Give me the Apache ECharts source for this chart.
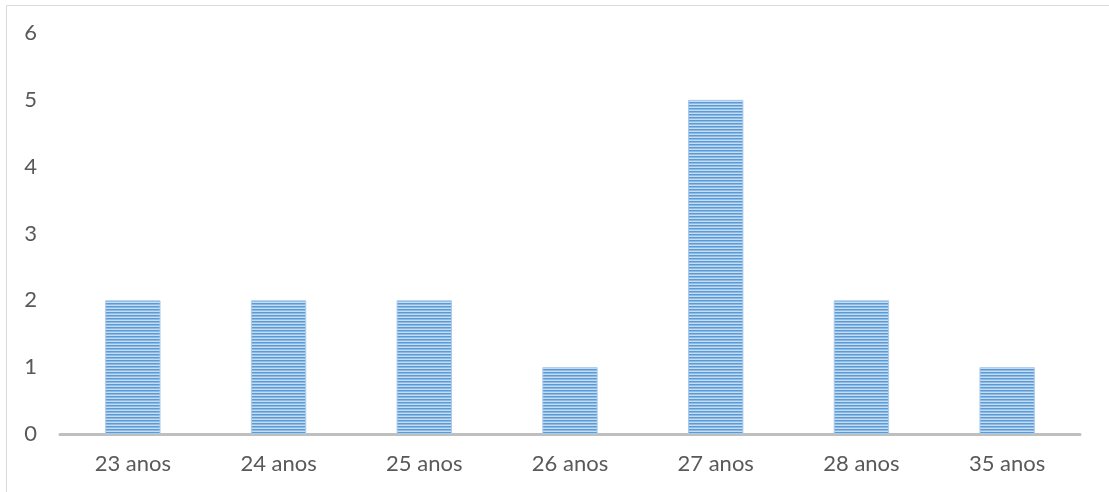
<!DOCTYPE html>
<html>
<head>
<meta charset="utf-8">
<script src="https://cdn.jsdelivr.net/npm/echarts@6/dist/echarts.min.js"></script>
<style>
  html, body { margin: 0; padding: 0; background: #fff; }
  #chart { width: 1109px; height: 492px; }
</style>
</head>
<body>
<div id="chart"></div>
<script>
// idades e contagens
var idades = ['23 anos', '24 anos', '25 anos', '26 anos', '27 anos', '28 anos', '35 anos'];
var contagem = [2, 2, 2, 1, 5, 2, 1];

// listras horizontais para preencher as barras
function stripes() {
  var c = document.createElement('canvas');
  c.width = 4; c.height = 3;
  var ctx = c.getContext('2d');
  ctx.fillStyle = '#C5DCF1';
  ctx.fillRect(0, 0, 4, 3);
  ctx.fillStyle = '#5B9BD5';
  ctx.fillRect(0, 0, 4, 1);
  ctx.fillStyle = '#8DBAE4';
  ctx.fillRect(0, 1, 4, 1);
  return c;
}

var chart = echarts.init(document.getElementById('chart'));
chart.setOption({
  animation: false,
  textStyle: { fontFamily: 'Lato' },
  graphic: [{
    type: 'rect',
    shape: { x: 6.5, y: 5.5, width: 1120, height: 500 },
    style: { fill: 'none', stroke: '#D9D9D9', lineWidth: 1 }
  }],
  grid: { left: 60, right: 29, top: 33, bottom: 58 },
  xAxis: {
    type: 'category',
    data: idades,
    axisLine: { lineStyle: { color: '#BFBFBF', width: 3 } },
    axisTick: { show: false },
    axisLabel: { color: '#595959', fontSize: 22, margin: 19 }
  },
  yAxis: {
    type: 'value',
    min: 0, max: 6, interval: 1,
    splitLine: { show: false },
    axisLine: { show: false },
    axisLabel: { color: '#595959', fontSize: 22, margin: 23 }
  },
  series: [{
    type: 'bar',
    data: contagem,
    barWidth: '38%',
    itemStyle: {
      color: { image: stripes(), repeat: 'repeat' },
      borderColor: '#A9CBEB',
      borderWidth: 1
    }
  }]
});
</script>
</body>
</html>
